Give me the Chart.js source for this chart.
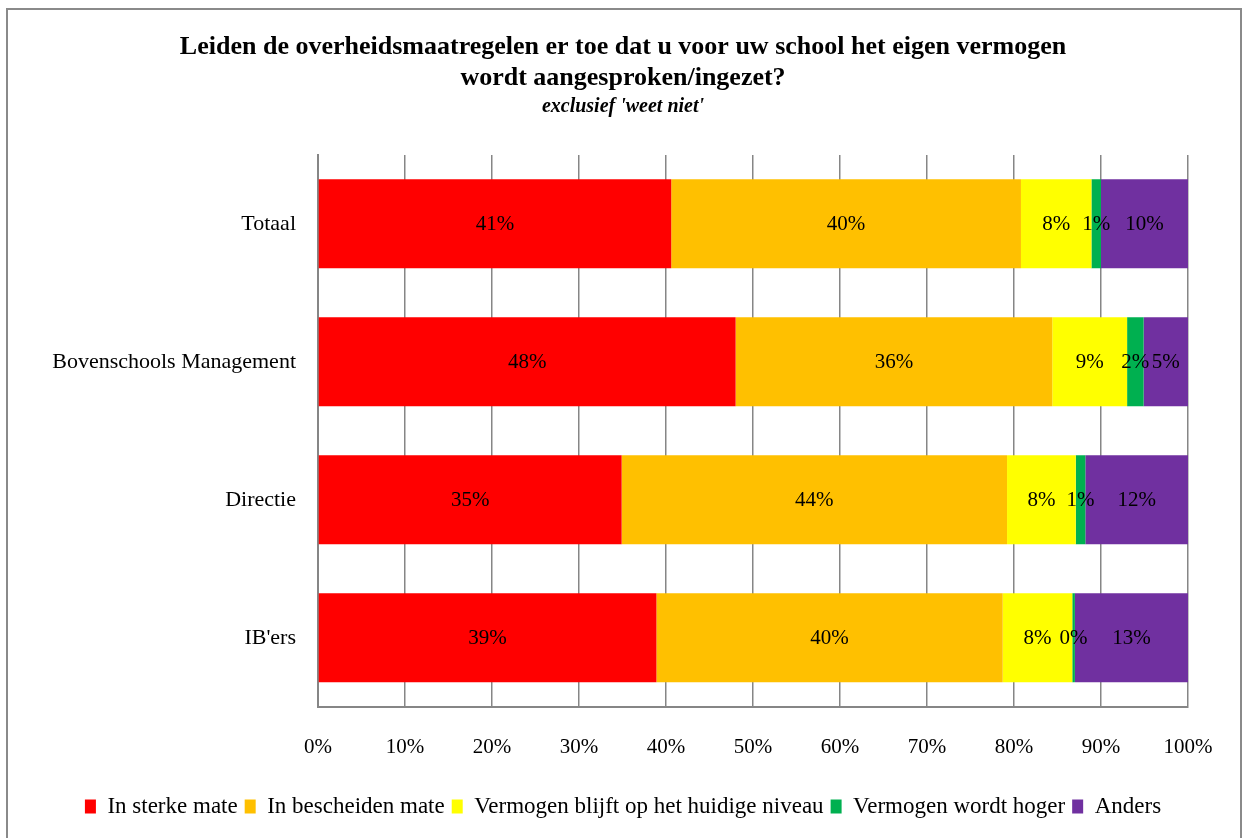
<!DOCTYPE html>
<html>
<head>
<meta charset="utf-8">
<script src="https://cdn.jsdelivr.net/npm/chart.js@4"></script>
<style>
  html, body { margin: 0; padding: 0; background: #fff; }
  #wrap { width: 1242px; height: 838px; position: relative; }
</style>
</head>
<body>
<div id="wrap"><canvas id="myChart" width="1242" height="838"></canvas></div>
<script>
const categories = ['Totaal', 'Bovenschools Management', 'Directie', "IB'ers"];
const inSterkeMate = [40.6, 48.0, 34.9, 38.9];
const inBescheidenMate = [40.2, 36.4, 44.3, 39.8];
const blijftHuidig = [8.1, 8.6, 7.9, 8.0];
const wordtHoger = [1.1, 1.9, 1.1, 0.3];
const anders = [10.0, 5.1, 11.8, 13.0];
const xTicks = [0, 10, 20, 30, 40, 50, 60, 70, 80, 90, 100];

const FONT = "'Liberation Serif', 'Times New Roman', serif";

// percentage labels in the middle of each segment
const segmentLabels = {
  id: 'segmentLabels',
  afterDatasetsDraw(chart) {
    const c = chart.ctx;
    c.save();
    c.font = "21px " + FONT;
    c.fillStyle = '#000';
    c.textAlign = 'center';
    c.textBaseline = 'middle';
    chart.data.datasets.forEach((ds, i) => {
      chart.getDatasetMeta(i).data.forEach((bar, j) => {
        const mid = (bar.x + bar.base) / 2;
        c.fillText(Math.round(ds.data[j]) + '%', mid, bar.y + 1);
      });
    });
    c.restore();
  }
};

// grey frame round the picture
const frame = {
  id: 'frame',
  beforeDraw(chart) {
    const c = chart.ctx;
    c.save();
    c.strokeStyle = '#8a8a8a';
    c.lineWidth = 2;
    c.beginPath();
    c.moveTo(7, 850);
    c.lineTo(7, 9);
    c.lineTo(1241, 9);
    c.lineTo(1241, 850);
    c.stroke();
    c.restore();
  }
};

const ctx = document.getElementById('myChart');

new Chart(ctx, {
  type: 'bar',
  data: {
    labels: categories,
    datasets: [
      { label: 'In sterke mate', data: inSterkeMate, backgroundColor: '#FF0000' },
      { label: 'In bescheiden mate', data: inBescheidenMate, backgroundColor: '#FFC000' },
      { label: 'Vermogen blijft op het huidige niveau', data: blijftHuidig, backgroundColor: '#FFFF00' },
      { label: 'Vermogen wordt hoger', data: wordtHoger, backgroundColor: '#00B050' },
      { label: 'Anders', data: anders, backgroundColor: '#7030A0' }
    ]
  },
  options: {
    indexAxis: 'y',
    responsive: false,
    animation: false,
    barPercentage: 0.645,
    categoryPercentage: 1,
    layout: { padding: { left: 30, right: 26, top: 0, bottom: 10 } },
    scales: {
      x: {
        stacked: true,
        min: 0,
        max: 100,
        afterBuildTicks: s => { s.ticks = xTicks.map(v => ({ value: v })); },
        ticks: {
          callback: v => v + '%',
          color: '#000',
          padding: 28,
          font: { family: FONT, size: 21 }
        },
        grid: { color: '#868686', lineWidth: 1.5, drawTicks: false },
        border: { color: '#868686', width: 2 }
      },
      y: {
        stacked: true,
        afterFit: s => { s.width = 288; },
        ticks: {
          color: '#000',
          padding: 22,
          font: { family: FONT, size: 22 }
        },
        grid: { display: false, drawTicks: false },
        border: { color: '#868686', width: 2 }
      },
      // empty strip on the right so the plot ends where the original does
      rightGap: {
        type: 'linear',
        position: 'right',
        afterFit: s => { s.width = 28; },
        ticks: { display: false },
        grid: { display: false, drawTicks: false },
        border: { display: false }
      }
    },
    plugins: {
      title: {
        display: true,
        text: ['Leiden de overheidsmaatregelen er toe dat u voor uw school het eigen vermogen', 'wordt aangesproken/ingezet?'],
        color: '#000',
        font: { family: FONT, size: 26, weight: 'bold', lineHeight: 1.19 },
        padding: { top: 32, bottom: 0 }
      },
      subtitle: {
        display: true,
        text: "exclusief 'weet niet'",
        color: '#000',
        font: { family: FONT, size: 20, weight: 'bold', style: 'italic', lineHeight: 1.2 },
        padding: { top: 1, bottom: 36 }
      },
      legend: {
        position: 'bottom',
        labels: {
          color: '#000',
          boxWidth: 11,
          boxHeight: 14,
          padding: 7,
          font: { family: FONT, size: 23 }
        }
      },
      tooltip: { enabled: false }
    }
  },
  plugins: [segmentLabels, frame]
});
</script>
</body>
</html>
